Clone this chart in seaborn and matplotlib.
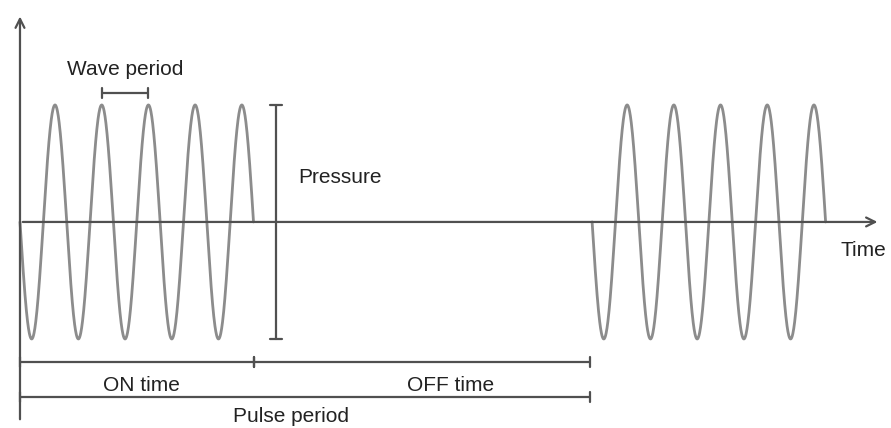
import numpy as np
import matplotlib
matplotlib.use("Agg")
import matplotlib.pyplot as plt
import seaborn as sns

# ---- diagram data (units: wave periods in time, pressure amplitude) ----
wave_period = 1.0
amplitude = 1.0
cycles_per_burst = 5
on_time = 5.0
pulse_period = 12.2
burst_starts = [0.0, 12.25]
labels = ["Wave period", "Pressure", "ON time", "OFF time", "Pulse period", "Time"]

sns.set_theme(style="white")
plt.rcParams['font.family'] = ['Liberation Sans', 'DejaVu Sans']

fig = plt.figure(figsize=(8.91, 4.28), dpi=100)
ax = fig.add_axes([0, 0, 1, 1])
ax.set_xlim(-0.428, 18.65)
ax.set_ylim(-1.761, 1.897)
ax.axis("off")

wave_col = "#8c8c8c"
line_col = "#505050"

# bursts
for s in burst_starts:
    t = np.linspace(0, cycles_per_burst * wave_period, 800)
    p = -amplitude * np.sin(2 * np.pi * t / wave_period)
    sns.lineplot(x=s + t, y=p, ax=ax, color=wave_col, lw=2.0, sort=False, estimator=None)

# axes with arrows
ax.annotate("", xy=(18.42, 0), xytext=(0, 0),
            arrowprops=dict(arrowstyle="->", color=line_col, lw=1.6, mutation_scale=16))
ax.annotate("", xy=(0, 1.78), xytext=(0, -1.71),
            arrowprops=dict(arrowstyle="->", color=line_col, lw=1.6, mutation_scale=16))

def hbar(x0, x1, y, cap=0.045, lw=1.6):
    ax.plot([x0, x1], [y, y], color=line_col, lw=lw, solid_capstyle="butt")
    for xx in (x0, x1):
        ax.plot([xx, xx], [y - cap, y + cap], color=line_col, lw=lw)

# wave period bracket
hbar(1.75, 2.75, 1.103)
ax.text(2.25, 1.30, labels[0], ha="center", va="center", fontsize=15, color="#222222")

# pressure bar
px = 5.48
ax.plot([px, px], [-amplitude, amplitude], color=line_col, lw=1.6)
for yy in (-amplitude, amplitude):
    ax.plot([px - 0.13, px + 0.13], [yy, yy], color=line_col, lw=1.6)
ax.text(5.95, 0.38, labels[1], ha="left", va="center", fontsize=15, color="#222222")

# ON / OFF time
y_on = -1.197
hbar(0, on_time, y_on)
hbar(on_time, pulse_period, y_on)
ax.text(2.59, -1.40, labels[2], ha="center", va="center", fontsize=15, color="#222222")
ax.text(9.21, -1.40, labels[3], ha="center", va="center", fontsize=15, color="#222222")

# pulse period
y_pp = -1.496
hbar(0, pulse_period, y_pp)
ax.text(5.8, -1.66, labels[4], ha="center", va="center", fontsize=15, color="#222222")

# Time label
ax.text(17.56, -0.24, labels[5], ha="left", va="center", fontsize=15, color="#222222")

fig.savefig("out.png", dpi=100)
